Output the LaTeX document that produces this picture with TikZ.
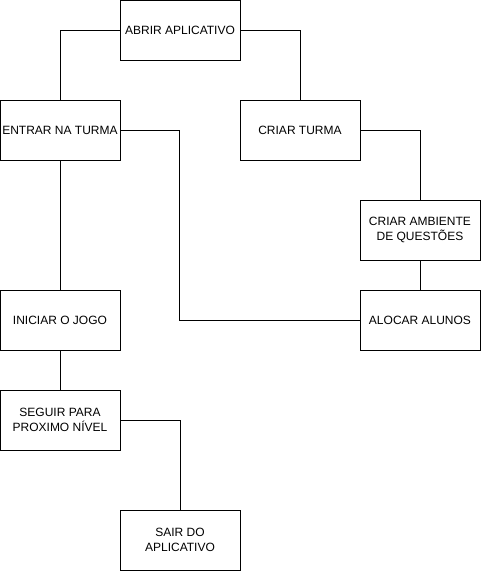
\documentclass[tikz,border=0pt]{standalone}
\usepackage{fontspec}
\setmainfont{Liberation Sans}
\begin{document}
\begin{tikzpicture}[x=1pt, y=-1pt, line width=1pt]
    \tikzset{
        stepBox/.style={draw=black, minimum width=120pt, minimum height=60pt,
            align=center, inner sep=2pt, font=\fontsize{12}{15}\selectfont},
        link/.style={draw=black, line width=1pt}
    }

    % Page frame
    \useasboundingbox (0,0) rectangle (481,571);

    % Steps
    \node[stepBox] (abrir)    at (180,30)  {ABRIR APLICATIVO};
    \node[stepBox] (entrar)   at (60,130)  {ENTRAR NA TURMA};
    \node[stepBox] (criar)    at (300,130) {CRIAR TURMA};
    \node[stepBox] (ambiente) at (420,230) {CRIAR AMBIENTE\\DE QUESTÕES};
    \node[stepBox] (alocar)   at (420,320) {ALOCAR ALUNOS};
    \node[stepBox] (iniciar)  at (60,320)  {INICIAR O JOGO};
    \node[stepBox] (seguir)   at (60,420)  {SEGUIR PARA\\PROXIMO NÍVEL};
    \node[stepBox] (sair)     at (180,540) {SAIR DO\\APLICATIVO};

    % Connectors
    \draw[link] (abrir.west) -| (entrar.north);
    \draw[link] (abrir.east) -| (criar.north);
    \draw[link] (criar.east) -| (ambiente.north);
    \draw[link] (ambiente.south) -- (alocar.north);
    \draw[link] (alocar.west) -- ++(-180,0) |- (entrar.east);
    \draw[link] (entrar.south) -- (iniciar.north);
    \draw[link] (iniciar.south) -- (seguir.north);
    \draw[link] (seguir.east) -| (sair.north);

\end{tikzpicture}
\end{document}
